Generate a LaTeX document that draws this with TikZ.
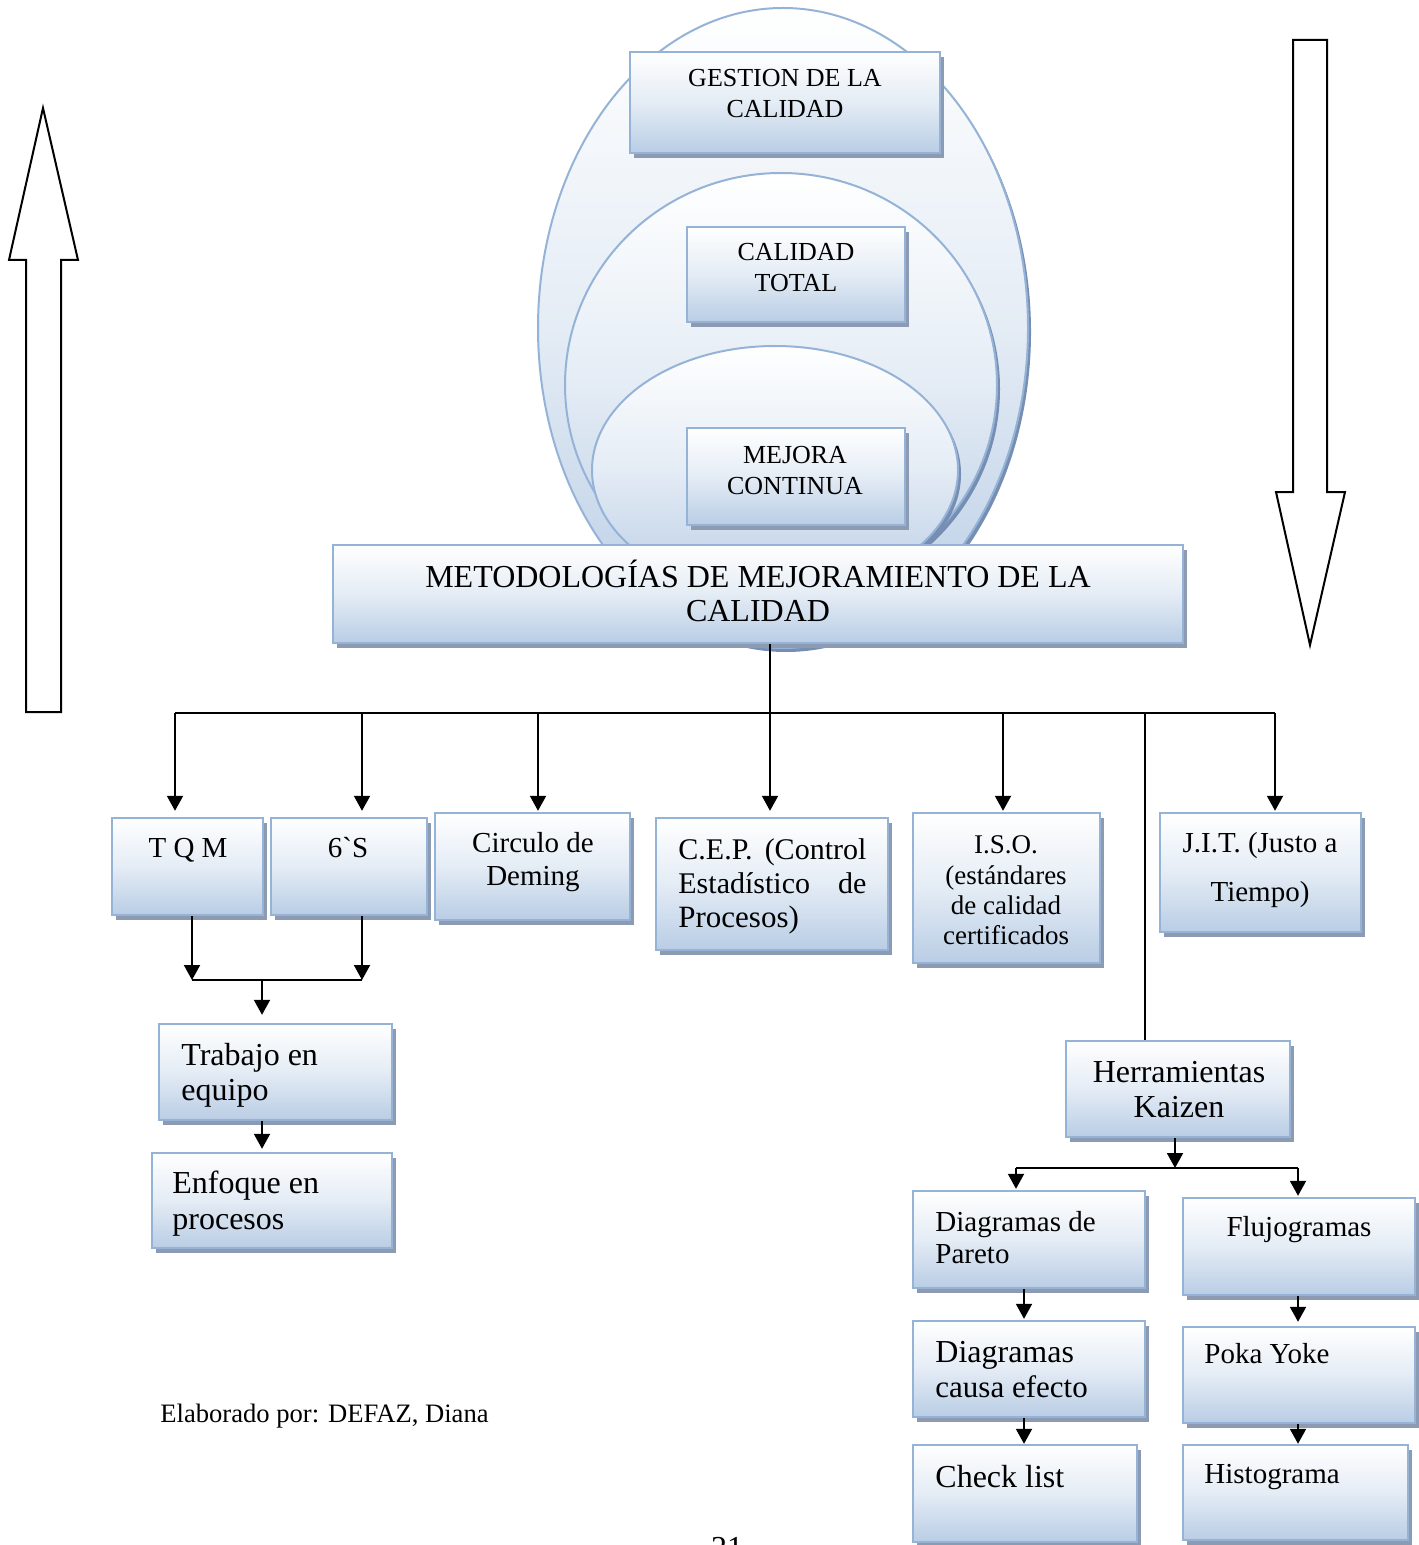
\documentclass[tikz,border=0pt]{standalone}
\usepackage{fontspec}
\setmainfont{Liberation Serif}
\usetikzlibrary{arrows.meta,shadows,fit}

\definecolor{edge}{RGB}{149,179,215}
\definecolor{fillbot}{RGB}{185,205,229}
\definecolor{fillmid}{RGB}{228,236,245}
\definecolor{boxshade}{RGB}{140,155,178}
\definecolor{ellshade}{RGB}{118,142,178}

\newcommand{\fsz}[1]{\fontsize{#1}{1.2\dimexpr #1pt\relax}\selectfont}

\tikzset{
  panel/.style={draw=edge, line width=1.2pt, top color=white, bottom color=fillbot,
    middle color=fillmid, inner sep=0pt,
    drop shadow={shadow xshift=2pt, shadow yshift=-2.5pt, fill=boxshade, opacity=1}},
  ell/.style={draw=edge, line width=1pt, top color=white, bottom color=fillbot,
    middle color=fillmid,
    drop shadow={shadow xshift=1.5pt, shadow yshift=-2pt, fill=ellshade, opacity=1}},
  lbl/.style={inner sep=0pt, anchor=base},
  lblw/.style={inner sep=0pt, anchor=base west},
  wire/.style={line width=1pt},
  conn/.style={line width=1pt, -{Triangle[length=7.5pt,width=8pt]}},
  bigarrow/.style={draw=black, line width=1pt, fill=white, line join=miter},
}

\begin{document}
\begin{tikzpicture}[x=0.5pt,y=-0.5pt]
\useasboundingbox (0,0) rectangle (1418,1545);

% nested ellipses behind the top boxes
\path[ell] (783,328) ellipse [x radius=245, y radius=320];
\path[ell] (781,385) ellipse [x radius=216, y radius=212];
\path[ell] (775,470) ellipse [x radius=183, y radius=124];

% boxes inside the ellipses
\node[panel, fit={(630,52) (940,153)}] (gestion) {};
\node[panel, fit={(687,227) (905,322)}] (total) {};
\node[panel, fit={(687,428) (905,525)}] (mejora) {};
\node[lbl, font=\fsz{13}] (gestionA) at (785,87) {GESTION DE LA};
\node[lbl, font=\fsz{13}] (gestionB) at (785,118) {CALIDAD};
\node[lbl, font=\fsz{13}] (totalA) at (796,261) {CALIDAD};
\node[lbl, font=\fsz{13}] (totalB) at (796,292) {TOTAL};
\node[lbl, font=\fsz{13}] (mejoraA) at (795,463) {MEJORA};
\node[lbl, font=\fsz{13}] (mejoraB) at (795,494) {CONTINUA};

% main title box
\node[panel, fit={(333,545) (1183,643)}] (metod) {};
\node[lbl, font=\fsz{16}] (metodA) at (758,587) {METODOLOGÍAS DE MEJORAMIENTO DE LA};
\node[lbl, font=\fsz{16}] (metodB) at (758,621) {CALIDAD};

% side block arrows
\draw[bigarrow] (26,712) -- (26,260) -- (9,260) -- (43,108) -- (78,260)
  -- (61,260) -- (61,712) -- cycle;
\draw[bigarrow] (1293,40) -- (1293,492) -- (1276,492) -- (1310,645)
  -- (1345,492) -- (1327,492) -- (1327,40) -- cycle;

% first row of methodologies
\node[panel, fit={(112,818) (263,915)}] (tqm) {};
\node[panel, fit={(271,818) (427,915)}] (seis) {};
\node[panel, fit={(435,813) (630,920)}] (deming) {};
\node[panel, fit={(656,818) (888,950)}] (cep) {};
\node[panel, fit={(913,813) (1100,963)}] (iso) {};
\node[panel, fit={(1160,813) (1361,932)}] (jit) {};

\node[lbl, font=\fsz{14.5}] (tqmA) at (188,857) {T Q M};
\node[lbl, font=\fsz{14.5}] (seisA) at (348,857) {6\textasciigrave S};
\node[lbl, font=\fsz{14.5}] (demingA) at (533,852) {Circulo de};
\node[lbl, font=\fsz{14.5}] (demingB) at (533,885) {Deming};
\node[lblw, font=\fsz{15}] (cepA) at (678,859) {\makebox[94pt][l]{C.E.P.\hfill(Control}};
\node[lblw, font=\fsz{15}] (cepB) at (678,893) {\makebox[94pt][l]{Estadístico\hfill de}};
\node[lblw, font=\fsz{15.5}] (cepC) at (678,927) {Procesos)};
\node[lbl, font=\fsz{13.5}] (isoA) at (1006,853) {I.S.O.};
\node[lbl, font=\fsz{13.5}] (isoB) at (1006,884) {(estándares};
\node[lbl, font=\fsz{13.5}] (isoC) at (1006,914) {de calidad};
\node[lbl, font=\fsz{13.5}] (isoD) at (1006,944) {certificados};
\node[lbl, font=\fsz{14.5}] (jitA) at (1260,852) {J.I.T. (Justo a};
\node[lbl, font=\fsz{14.5}] (jitB) at (1260,901) {Tiempo)};

% distribution bus under the title box
\coordinate (b1) at (175,713);
\coordinate (b2) at (362,713);
\coordinate (b3) at (538,713);
\coordinate (b4) at (770,713);
\coordinate (b5) at (1003,713);
\coordinate (b6) at (1145,713);
\coordinate (b7) at (1275,713);
\draw[wire] (metod.south -| b4) -- (b4);
\draw[wire] (b1) -- (b7);
\draw[conn, shorten >=3pt] (b1) -- (b1 |- tqm.north);
\draw[conn, shorten >=3pt] (b2) -- (b2 |- seis.north);
\draw[conn, shorten >=0.5pt] (b3) -- (b3 |- deming.north);
\draw[conn, shorten >=3pt] (b4) -- (b4 |- cep.north);
\draw[conn, shorten >=0.5pt] (b5) -- (b5 |- iso.north);
\draw[conn, shorten >=0.5pt] (b7) -- (b7 |- jit.north);

% left branch
\node[panel, fit={(159,1024) (392,1120)}] (trabajo) {};
\node[panel, fit={(152,1153) (392,1248)}] (enfoque) {};
\node[lblw, font=\fsz{16}] (trabajoA) at (181,1065) {Trabajo en};
\node[lblw, font=\fsz{16}] (trabajoB) at (181,1100) {equipo};
\node[lblw, font=\fsz{16}] (enfoqueA) at (172,1193) {Enfoque en};
\node[lblw, font=\fsz{16}] (enfoqueB) at (172,1229) {procesos};

\coordinate (j1) at (192,980);
\coordinate (j2) at (362,980);
\coordinate (j3) at (262,980);
\draw[conn] (tqm.south -| j1) -- (j1);
\draw[conn] (seis.south -| j2) -- (j2);
\draw[wire] (j1) -- (j2);
\draw[conn, shorten >=4pt] (j3) -- (j3 |- trabajo.north);
\draw[conn, shorten >=1.5pt] (trabajo.south -| j3) -- (j3 |- enfoque.north);

% Kaizen tools
\node[panel, fit={(1066,1041) (1290,1137)}] (kaizen) {};
\node[lbl, font=\fsz{16}] (kaizenA) at (1179,1082) {Herramientas};
\node[lbl, font=\fsz{16}] (kaizenB) at (1179,1117) {Kaizen};
\draw[wire] (b6) -- (b6 |- kaizen.north);

\node[panel, fit={(913,1191) (1145,1288)}] (pareto) {};
\node[panel, fit={(1183,1198) (1415,1295)}] (fluj) {};
\node[panel, fit={(913,1321) (1145,1417)}] (causa) {};
\node[panel, fit={(1183,1327) (1415,1423)}] (poka) {};
\node[panel, fit={(913,1445) (1137,1542)}] (check) {};
\node[panel, fit={(1183,1445) (1408,1540)}] (histo) {};

\node[lblw, font=\fsz{14.5}] (paretoA) at (935,1231) {Diagramas de};
\node[lblw, font=\fsz{14.5}] (paretoB) at (935,1263) {Pareto};
\node[lbl, font=\fsz{14.5}] (flujA) at (1299,1236) {Flujogramas};
\node[lblw, font=\fsz{16}] (causaA) at (935,1362) {Diagramas};
\node[lblw, font=\fsz{15.5}] (causaB) at (935,1397) {causa efecto};
\node[lblw, font=\fsz{14.5}] (pokaA) at (1204,1363) {Poka Yoke};
\node[lblw, font=\fsz{16}] (checkA) at (935,1487) {Check list};
\node[lblw, font=\fsz{14.5}] (histoA) at (1204,1483) {Histograma};

\coordinate (k1) at (1175,1168);
\coordinate (k2) at (1016,1168);
\coordinate (k3) at (1298,1168);
\draw[conn] (kaizen.south -| k1) -- (k1);
\draw[wire] (k2) -- (k3);
\draw[conn, shorten >=0.5pt] (k2) -- (k2 |- pareto.north);
\draw[conn, shorten >=0.5pt] (k3) -- (k3 |- fluj.north);
\draw[conn, shorten >=0.5pt] (pareto.south -| 1024,0) -- (1024,0 |- causa.north);
\draw[conn] (causa.south -| 1024,0) -- (1024,0 |- check.north);
\draw[conn, shorten >=2pt] (fluj.south -| k3) -- (k3 |- poka.north);
\draw[conn] (poka.south -| k3) -- (k3 |- histo.north);

% credit line and page number
\node[lblw, font=\fsz{13.3}] (credit) at (160,1422) {Elaborado por: DEFAZ, Diana};
\node[inner sep=0pt, anchor=north, font=\fsz{16}] (pagenum) at (727,1537) {21};
\end{tikzpicture}
\end{document}
